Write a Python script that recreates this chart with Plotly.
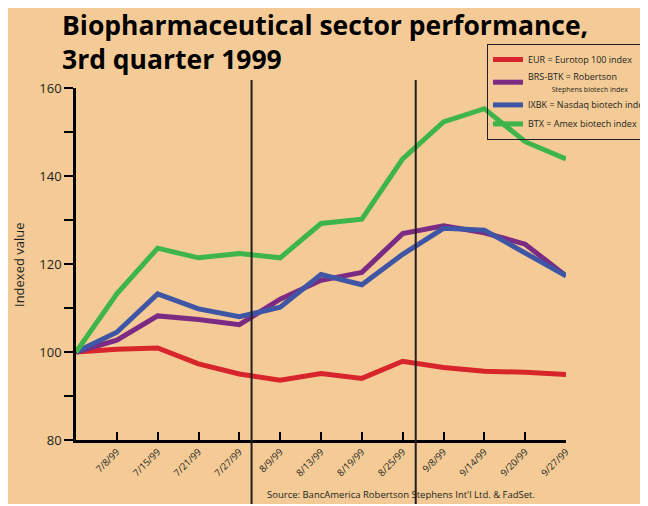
import plotly.graph_objects as go

# ---- data ----
dates = ["7/8/99", "7/15/99", "7/21/99", "7/27/99", "8/9/99", "8/13/99",
         "8/19/99", "8/25/99", "9/8/99", "9/14/99", "9/20/99", "9/27/99"]
# first value = starting index (100) at the origin of the axis
eur = [100, 100.6, 100.9, 97.3, 95.0, 93.6, 95.1, 94.0, 97.9, 96.5, 95.6, 95.4, 94.9]
brs_btk = [100, 102.7, 108.2, 107.4, 106.2, 112.0, 116.3, 118.1, 126.9, 128.7, 127.1, 124.5, 117.3]
ixbk = [100, 104.5, 113.2, 109.8, 108.0, 110.2, 117.6, 115.3, 122.2, 128.1, 127.7, 122.4, 117.3]
btx = [100, 113.2, 123.6, 121.4, 122.4, 121.4, 129.2, 130.2, 143.9, 152.3, 155.3, 147.8, 143.9]
quarter_breaks = [4.3, 8.32]  # month separators (between 7/27-8/9 and 8/25-9/8)

names = ["EUR = Eurotop 100 index",
         "BRS-BTK = Robertson<br><span style='font-size:7px'>             Stephens biotech index</span>",
         "IXBK = Nasdaq biotech index",
         "BTX = Amex biotech index"]
colors = ["#D7252B", "#7B2B83", "#3F55A5", "#3DB54A"]
series = [eur, brs_btk, ixbk, btx]

# page offset: the html body has an 8px margin (gives the white border)
OFF = 8
W, H = 648 - OFF, 506 - OFF
L, R, T, B = 76, 566, 88, 440  # plot area in page px
def px(x): return (x - L) / (R - L)
def py(y): return (B - y) / (B - T)

BG = "#F4CB96"
FONT = "Open Sans"
x = list(range(len(eur)))

fig = go.Figure()
for s, n, c in zip(series, names, colors):
    fig.add_trace(go.Scatter(x=x, y=s, mode="lines", name=n,
                             line=dict(color=c, width=5)))

shapes = []
for qb in quarter_breaks:
    shapes.append(dict(type="line", xref="x", yref="paper", x0=qb, x1=qb,
                       y0=py(510), y1=py(80), line=dict(color="#231F20", width=2)))
shapes.append(dict(type="rect", xref="paper", yref="paper", x0=px(0), x1=px(660),
                   y0=py(510), y1=py(504), fillcolor="white", line=dict(width=0)))

fig.update_layout(
    width=W, height=H,
    margin=dict(l=L - OFF, r=648 - R, t=T - OFF, b=506 - B, autoexpand=False),
    paper_bgcolor=BG, plot_bgcolor="rgba(0,0,0,0)",
    font=dict(family=FONT, color="#231F20"),
    showlegend=True,
    legend=dict(x=px(487), y=py(44), xanchor="left", yanchor="top",
                bgcolor="rgba(0,0,0,0)", bordercolor="#231F20", borderwidth=1,
                font=dict(size=9, family=FONT), tracegroupgap=0,
                itemwidth=30),
    xaxis=dict(range=[0, 12], tickvals=list(range(1, 13)), ticktext=dates,
               tickangle=-45, tickfont=dict(size=9.5, family=FONT),
               ticks="inside", ticklen=8, tickwidth=2, tickcolor="black",
               showline=True, linecolor="black", linewidth=2.5,
               showgrid=False, zeroline=False),
    yaxis=dict(range=[80, 160], dtick=20, tick0=80,
               tickfont=dict(size=13, family=FONT),
               ticks="outside", ticklen=9, tickwidth=1.5, tickcolor="black",
               minor=dict(dtick=10, ticks="outside", ticklen=9, tickwidth=1.5,
                          tickcolor="black"),
               showline=True, linecolor="black", linewidth=2.5,
               showgrid=False, zeroline=False),
    yaxis2=dict(range=[80, 160], overlaying="y", side="left",
                tickvals=[120, 140, 160], ticks="inside", ticklen=10,
                tickwidth=2, tickcolor="black", showticklabels=False,
                showgrid=False, zeroline=False, showline=False),
    shapes=shapes,
    annotations=[
        dict(text="<b>Biopharmaceutical sector performance,</b>",
             xref="paper", yref="paper", x=px(60), y=py(5), xanchor="left",
             yanchor="top", align="left", showarrow=False,
             font=dict(size=26.5, family=FONT, color="black")),
        dict(text="<b>3rd quarter 1999</b>",
             xref="paper", yref="paper", x=px(60), y=py(39), xanchor="left",
             yanchor="top", align="left", showarrow=False,
             font=dict(size=26.5, family=FONT, color="black")),
        dict(text="Indexed value", textangle=-90,
             xref="paper", yref="paper", x=px(19), y=py(265), xanchor="center",
             yanchor="middle", showarrow=False,
             font=dict(size=13, family=FONT, color="#231F20")),
        dict(text="Source: BancAmerica Robertson Stephens Int'l Ltd. & FadSet.",
             xref="paper", yref="paper", x=px(265), y=py(494), xanchor="left",
             yanchor="middle", showarrow=False,
             font=dict(size=9.5, family=FONT, color="#231F20")),
    ],
)
fig.write_html("out.html")
